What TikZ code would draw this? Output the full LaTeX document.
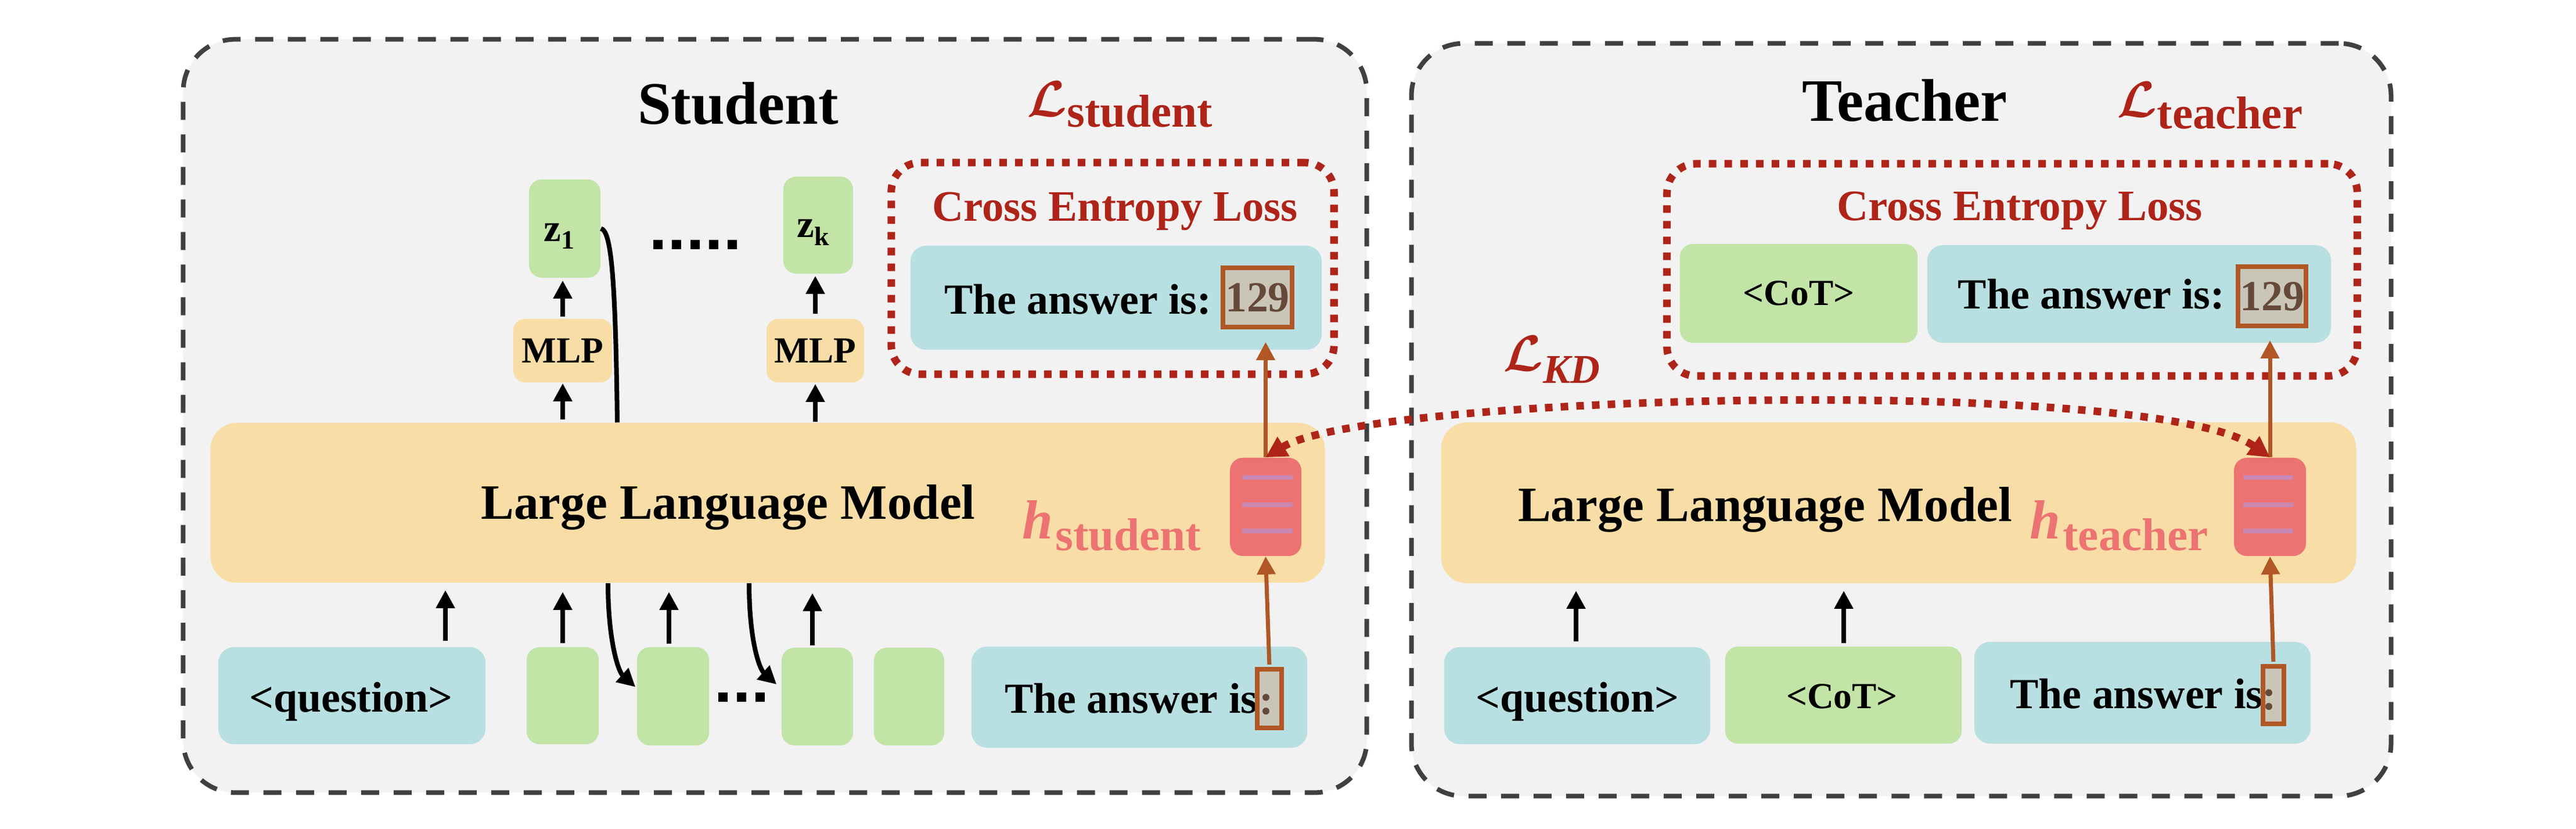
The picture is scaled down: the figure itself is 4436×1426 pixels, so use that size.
\documentclass[tikz,border=0pt]{standalone}
\usepackage{fontspec}
\setmainfont{Liberation Serif}
\usetikzlibrary{arrows.meta,calc}
\definecolor{outerfill}{HTML}{F2F2F2}
\definecolor{outerdash}{HTML}{404040}
\definecolor{llmc}{HTML}{F8DDA7}
\definecolor{greenc}{HTML}{C2E4A6}
\definecolor{bluec}{HTML}{B8DFE1}
\definecolor{redc}{HTML}{AF2419}
\definecolor{salmonc}{HTML}{EC7371}
\definecolor{stripec}{HTML}{C987B2}
\definecolor{orangec}{HTML}{B05725}
\definecolor{ansfill}{HTML}{C9C6B8}
\definecolor{anstext}{HTML}{654A3A}
\newcommand\setfs[1]{\fontsize{#1pt}{#1pt}\selectfont}
\begin{document}
\begin{tikzpicture}[x=0.01cm,y=-0.01cm,
  outerbox/.style={draw=outerdash, fill=outerfill, line width=0.08cm, dash pattern=on 0.31cm off 0.25cm, rounded corners=0.9cm, inner sep=0},
  cebox/.style={draw=redc, line width=0.13cm, dash pattern=on 0.13cm off 0.14cm, rounded corners=0.5cm, inner sep=0},
  gbox/.style={fill=greenc, rounded corners=0.22cm, inner sep=0},
  bbox/.style={fill=bluec, rounded corners=0.27cm, inner sep=0},
  lbox/.style={fill=llmc, rounded corners=0.45cm, inner sep=0},
  mbox/.style={fill=llmc, rounded corners=0.2cm, inner sep=0},
  vecbox/.style={fill=salmonc, rounded corners=0.22cm, inner sep=0, minimum width=1.23cm, minimum height=1.69cm},
  stripe/.style={fill=stripec, inner sep=0, minimum width=0.87cm, minimum height=0.075cm},
  ansbox/.style={draw=orangec, fill=ansfill, line width=0.08cm, inner sep=0, text=anstext},
  txt/.style={inner sep=0, font=\bfseries},
  sq/.style={fill=black, inner sep=0, minimum size=0.155cm},
  arr/.style={draw=black, line width=0.08cm, -{Triangle[length=0.31cm,width=0.31cm]}},
  oarr/.style={draw=orangec, line width=0.07cm, -{Triangle[length=0.31cm,width=0.31cm]}},
  kdline/.style={draw=redc, line width=0.13cm, dash pattern=on 0.13cm off 0.14cm, {Triangle[length=0.36cm,width=0.37cm]}-{Triangle[length=0.36cm,width=0.37cm]}},
]
\useasboundingbox (0,0) rectangle (4436,1426);
\fill[white] (0,0) rectangle (4436,1426);

% outer panels
\node[outerbox, minimum width=20.37cm, minimum height=12.96cm] (stu) at (1334.5,716) {};
\node[outerbox, minimum width=16.86cm, minimum height=12.95cm] (tea) at (3274,722.5) {};

% titles and losses
\node[txt, anchor=base] (stitle) at (1271,213) {\setfs{29.5}Student};
\node[txt, anchor=base] (ttitle) at (3280,208) {\setfs{29.5}Teacher};
\node[inner sep=0, anchor=base west, text=redc] (lstu) at (1768,200) {\setfs{28}{\boldmath$\mathcal{L}$}\raisebox{-0.18cm}{\setfs{22.5}\bfseries student}};
\node[inner sep=0, anchor=base west, text=redc] (ltea) at (3645,201) {\setfs{28}{\boldmath$\mathcal{L}$}\raisebox{-0.2cm}{\setfs{22.5}\bfseries teacher}};
\node[inner sep=0, anchor=base west, text=redc] (lkd) at (2588,638) {\setfs{28}{\boldmath$\mathcal{L}$}\raisebox{-0.21cm}{\setfs{20}\bfseries\itshape KD}};

% cross entropy boxes
\node[cebox, minimum width=7.62cm, minimum height=3.64cm] (sce) at (1916,462) {};
\node[txt, anchor=base, text=redc] (scet) at (1920,380) {\setfs{21.3}Cross Entropy Loss};
\node[bbox, minimum width=7.08cm, minimum height=1.79cm] (sans) at (1922,512.5) {};
\node[txt, anchor=base west] (sanst) at (1626,540) {\setfs{21}The answer is:};
\node[ansbox, font=\bfseries, minimum width=1.19cm, minimum height=1.02cm] (s129) at (2165.5,512) {\setfs{21}129};

\node[cebox, minimum width=11.88cm, minimum height=3.65cm] (tce) at (3465,464.5) {};
\node[txt, anchor=base, text=redc] (tcet) at (3478,379) {\setfs{21.3}Cross Entropy Loss};
\node[gbox, font=\bfseries, minimum width=4.09cm, minimum height=1.70cm] (tcot) at (3097.5,505) {\setfs{18}<CoT>};
\node[bbox, minimum width=6.95cm, minimum height=1.68cm] (tans) at (3666.5,506) {};
\node[txt, anchor=base west] (tanst) at (3371,531) {\setfs{21}The answer is:};
\node[ansbox, font=\bfseries, minimum width=1.17cm, minimum height=1.02cm] (t129) at (3912.5,510) {\setfs{21}129};

% latent tokens
\node[gbox, minimum width=1.23cm, minimum height=1.69cm] (z1) at (972.5,393.5) {};
\node[txt, anchor=base west] (z1t) at (936,415) {\setfs{19}z\raisebox{-0.13cm}{\setfs{13}1}};
\node[gbox, minimum width=1.20cm, minimum height=1.67cm] (zk) at (1409,387.5) {};
\node[txt, anchor=base west] (zkt) at (1372,408) {\setfs{19}z\raisebox{-0.14cm}{\setfs{13}k}};
\foreach \i in {0,...,4} \node[sq] (tdot\i) at ({1133+32*\i},421) {};
\node[mbox, font=\bfseries, minimum width=1.70cm, minimum height=1.09cm] (mlp1) at (969,603.5) {\setfs{18}MLP};
\node[mbox, font=\bfseries, minimum width=1.68cm, minimum height=1.09cm] (mlp2) at (1404,603.5) {\setfs{18}MLP};

% LLMs
\node[lbox, minimum width=19.18cm, minimum height=2.75cm] (sllm) at (1322,865.5) {};
\node[txt, anchor=base] (sllmt) at (1254,893) {\setfs{24.2}Large Language Model};
\node[inner sep=0, anchor=base west, text=salmonc] (hs) at (1760,927) {\setfs{27}\bfseries\itshape h\kern0.04cm\raisebox{-0.2cm}{\setfs{22.5}\upshape student}};
\node[vecbox] (svec) at (2179.5,872.5) {};
\node[stripe] (ss1) at (2182.5,822) {};
\node[stripe] (ss2) at (2182.5,869) {};
\node[stripe] (ss3) at (2182.5,914) {};

\node[lbox, minimum width=15.75cm, minimum height=2.77cm] (tllm) at (3269.5,865.5) {};
\node[txt, anchor=base] (tllmt) at (3039.5,897) {\setfs{24.2}Large Language Model};
\node[inner sep=0, anchor=base west, text=salmonc] (ht) at (3495,927) {\setfs{27}\bfseries\itshape h\kern0.04cm\raisebox{-0.2cm}{\setfs{22.5}\upshape teacher}};
\node[vecbox, minimum width=1.24cm] (tvec) at (3909,872.5) {};
\node[stripe, minimum width=0.86cm] (ts1) at (3906,822) {};
\node[stripe, minimum width=0.86cm] (ts2) at (3906,869) {};
\node[stripe, minimum width=0.86cm] (ts3) at (3906,914) {};

% student input row
\node[bbox, minimum width=4.60cm, minimum height=1.67cm] (sq) at (606,1197.5) {};
\node[txt, anchor=base] (sqt) at (604.5,1225) {\setfs{21}<question>};
\node[gbox, minimum width=1.24cm, minimum height=1.67cm] (g1) at (969,1197.5) {};
\node[gbox, minimum width=1.24cm, minimum height=1.69cm] (g2) at (1159,1198.5) {};
\foreach \i in {0,1,2} \node[sq, minimum size=0.16cm] (bdot\i) at ({1245+32*\i},1200) {};
\node[gbox, minimum width=1.23cm, minimum height=1.68cm] (g3) at (1407.5,1199) {};
\node[gbox, minimum width=1.21cm, minimum height=1.68cm] (g4) at (1565.5,1199) {};
\node[bbox, minimum width=5.78cm, minimum height=1.74cm] (sa) at (1962,1200) {};
\node[txt, anchor=base east] (sat) at (2166,1227) {\setfs{21}The answer is};
\node[ansbox, minimum width=0.42cm, minimum height=1.01cm] (scol) at (2186,1202.5) {};
\node[txt, anchor=base, text=anstext] (scolt) at (2181,1229) {\setfs{21}:};

% teacher input row
\node[bbox, minimum width=4.58cm, minimum height=1.67cm] (tq) at (2716,1197.5) {};
\node[txt, anchor=base] (tqt) at (2716.5,1225) {\setfs{21}<question>};
\node[gbox, minimum width=4.07cm, minimum height=1.67cm] (tcot2) at (3174.5,1196.5) {};
\node[txt, anchor=base] (tcot2t) at (3172,1219) {\setfs{18}<CoT>};
\node[bbox, minimum width=5.79cm, minimum height=1.75cm] (ta) at (3689.5,1192.5) {};
\node[txt, anchor=base east] (tat) at (3897,1219) {\setfs{21}The answer is};
\node[ansbox, minimum width=0.36cm, minimum height=0.99cm] (tcol) at (3915,1196.5) {};
\node[txt, anchor=base, text=anstext] (tcolt) at (3908,1221) {\setfs{21}:};

% helper x positions
\coordinate (xq) at (767,0);
\coordinate (xg2) at (1152,0);
\coordinate (xg3) at (1399,0);
\coordinate (xz) at (1063,0);
\coordinate (xc1) at (1047,0);
\coordinate (xc2) at (1290,0);
\coordinate (xtq) at (2714,0);
\coordinate (xtc) at (3175,0);

% student arrows
\draw[arr, shorten <=0.1cm, shorten >=0.12cm] (sq.north -| xq) -- (sllm.south -| xq);
\draw[arr, shorten <=0.06cm, shorten >=0.15cm] (g1.north) -- (sllm.south -| g1.north);
\draw[arr, shorten <=0.05cm, shorten >=0.15cm] (g2.north -| xg2) -- (sllm.south -| xg2);
\draw[arr, shorten <=0.03cm, shorten >=0.17cm] (g3.north -| xg3) -- (sllm.south -| xg3);
\draw[arr, shorten <=0.05cm, shorten >=0.01cm] (sllm.north -| mlp1.south) -- (mlp1.south);
\draw[arr, shorten <=0.03cm, shorten >=0.04cm] (mlp1.north) -- (z1.south -| mlp1.north);
\draw[arr, shorten <=0.01cm, shorten >=0.02cm] (sllm.north -| mlp2.south) -- (mlp2.south);
\draw[arr, shorten <=0.08cm, shorten >=0.03cm] (mlp2.north) -- (zk.south -| mlp2.north);
\draw[line width=0.08cm] (z1.east) .. controls +(18,3) and +(-3,-248) .. (sllm.north -| xz);
\draw[arr] (sllm.south -| xc1) .. controls +(0,97) and +(-30,-27) .. ($(g2.west)+(-2,-16)$);
\draw[arr] (sllm.south -| xc2) .. controls +(0,97) and +(-30,-27) .. ($(g3.west)+(-8,-21)$);

% teacher arrows
\draw[arr, shorten <=0.09cm, shorten >=0.12cm] (tq.north -| xtq) -- (tllm.south -| xtq);
\draw[arr, shorten <=0.05cm, shorten >=0.12cm] (tcot2.north -| xtc) -- (tllm.south -| xtc);

% orange arrows
\draw[oarr, shorten <=0.04cm] (scol.north) -- (svec.south);
\draw[oarr, shorten >=-0.14cm] (svec.north) -- (sans.south -| svec.north);
\draw[oarr, shorten <=0.04cm] (tcol.north) -- (tvec.south);
\draw[oarr, shorten >=-0.05cm] (tvec.north) -- (tans.south -| tvec.north);

% KD connector
\draw[kdline] (svec.north) .. controls +(180,-110) and +(-200,-140) .. (tvec.north);
\end{tikzpicture}
\end{document}
